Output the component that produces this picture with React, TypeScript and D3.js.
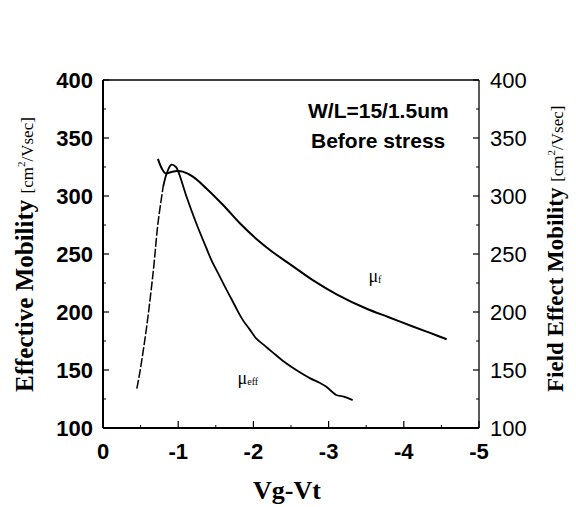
import React from "react";
import * as d3 from "d3";

// axis ticks
const xTicks = [0, -1, -2, -3, -4, -5];
const xMinor = [-0.5, -1.5, -2.5, -3.5, -4.5];
const yTicks = [100, 150, 200, 250, 300, 350, 400];
const yMinor = [125, 175, 225, 275, 325, 375];

// field effect mobility (mu_f)
const fieldVg = [-0.73, -0.78, -0.83, -0.9, -0.98, -1.06, -1.2, -1.375, -1.6, -1.82, -2.04, -2.25, -2.48, -2.8, -3.1, -3.5, -3.8, -4.12, -4.35, -4.57];
const fieldMu = [332, 324, 319.5, 320.5, 321.5, 321, 316.5, 306.5, 292, 276.5, 263, 252, 241.5, 227, 215.5, 203, 195.5, 187.5, 182, 176.5];

// effective mobility (mu_eff)
const effVg = [-0.45, -0.49, -0.58, -0.67, -0.73, -0.8, -0.85, -0.91, -0.97, -1.01, -1.11, -1.24, -1.375, -1.44, -1.55, -1.64, -1.71, -1.79, -1.86, -1.95, -2.04, -2.15, -2.26, -2.39, -2.57, -2.75, -2.88, -2.97, -3.05, -3.1, -3.2, -3.32];
const effMu = [134, 148, 187, 236, 276, 308, 320, 327, 325, 319.5, 299.5, 276.5, 255, 245, 231, 219.5, 211, 201, 193, 185, 177, 171, 165, 158, 150, 143, 139, 135.5, 131, 128.5, 127, 124];

const W = 576;
const H = 507;
const margin = { top: 80, right: 97, bottom: 79, left: 103 };

const sans = "'Liberation Sans', Arial, sans-serif";
const serif = "'Liberation Serif', 'Times New Roman', serif";

export default function App() {
  const x = d3.scaleLinear().domain([0, -5]).range([margin.left, W - margin.right]);
  const y = d3.scaleLinear().domain([100, 400]).range([H - margin.bottom, margin.top]);

  const lineSmooth = d3
    .line<[number, number]>()
    .x((d) => x(d[0]))
    .y((d) => y(d[1]))
    .curve(d3.curveCatmullRom.alpha(0.5));

  const field = fieldVg.map((v, i) => [v, fieldMu[i]] as [number, number]);
  const eff = effVg.map((v, i) => [v, effMu[i]] as [number, number]);
  const peak = d3.maxIndex(effMu);
  const effRise = eff.slice(0, peak - 1);
  const effRest = eff.slice(peak - 2);

  const x0 = x(0), x1 = x(-5), y0 = y(100), y1 = y(400);

  return (
    <svg width={W} height={H} style={{ position: "absolute", left: 0, top: 0, background: "#fff" }}>
      {/* frame */}
      <line x1={x0} x2={x0} y1={y1} y2={y0} stroke="#000" strokeWidth={2} />
      <line x1={x0} x2={x1} y1={y0} y2={y0} stroke="#000" strokeWidth={2} />
      <line x1={x0} x2={x1} y1={y1} y2={y1} stroke="#000" strokeWidth={1.3} />
      <line x1={x1} x2={x1} y1={y1} y2={y0} stroke="#000" strokeWidth={1.3} />

      {/* bottom ticks */}
      {xTicks.map((t) => (
        <g key={"xt" + t}>
          <line x1={x(t)} x2={x(t)} y1={y0} y2={y0 - 7} stroke="#000" strokeWidth={1.2} />
          <text x={x(t)} y={y0 + 31} textAnchor="middle" fontFamily={sans} fontWeight="bold" fontSize={22}>
            {t}
          </text>
        </g>
      ))}
      {xMinor.map((t) => (
        <line key={"xm" + t} x1={x(t)} x2={x(t)} y1={y0} y2={y0 - 3} stroke="#000" strokeWidth={1} />
      ))}

      {/* left / right ticks */}
      {yTicks.map((t) => (
        <g key={"yt" + t}>
          <line x1={x0} x2={x0 + 6} y1={y(t)} y2={y(t)} stroke="#000" strokeWidth={1.2} />
          <line x1={x1} x2={x1 - 6} y1={y(t)} y2={y(t)} stroke="#000" strokeWidth={1.2} />
          <text x={x0 - 10} y={y(t)} dy="0.36em" textAnchor="end" fontFamily={sans} fontWeight="bold" fontSize={22}>
            {t}
          </text>
          <text x={x1 + 11} y={y(t)} dy="0.36em" textAnchor="start" fontFamily={sans} fontSize={22}>
            {t}
          </text>
        </g>
      ))}
      {yMinor.map((t) => (
        <g key={"ym" + t}>
          <line x1={x0} x2={x0 + 3} y1={y(t)} y2={y(t)} stroke="#000" strokeWidth={1} />
          <line x1={x1} x2={x1 - 3} y1={y(t)} y2={y(t)} stroke="#000" strokeWidth={1} />
        </g>
      ))}

      {/* curves */}
      <path d={lineSmooth(field) ?? ""} fill="none" stroke="#000" strokeWidth={2} />
      <path d={lineSmooth(effRise) ?? ""} fill="none" stroke="#000" strokeWidth={1.5} strokeDasharray="9 2" />
      <path d={lineSmooth(effRest) ?? ""} fill="none" stroke="#000" strokeWidth={1.8} />

      {/* curve labels */}
      <text x={x(-3.53)} y={y(226)} fontFamily={serif} fontSize={18}>
        μ<tspan fontSize={10} dy={1}>f</tspan>
      </text>
      <text x={x(-1.79)} y={y(138)} fontFamily={serif} fontSize={18}>
        μ<tspan fontSize={10} dy={1}>eff</tspan>
      </text>

      {/* annotation */}
      <text x={308} y={118} fontFamily={sans} fontWeight="bold" fontSize={21}>
        W/L=15/1.5um
      </text>
      <text x={311} y={148} fontFamily={sans} fontWeight="bold" fontSize={21}>
        Before stress
      </text>

      {/* axis titles */}
      <text x={287} y={499} textAnchor="middle" fontFamily={serif} fontWeight="bold" fontSize={26}>
        Vg-Vt
      </text>
      <text transform="translate(33,392) rotate(-90)" fontFamily={serif}>
        <tspan fontWeight="bold" fontSize={25}>Effective Mobility </tspan>
        <tspan fontSize={17}>[cm</tspan>
        <tspan fontSize={11} dy={-8}>2</tspan>
        <tspan fontSize={17} dy={8}>/Vsec]</tspan>
      </text>
      <text transform="translate(563,392) rotate(-90)" fontFamily={serif}>
        <tspan fontWeight="bold" fontSize={23}>Field Effect Mobility </tspan>
        <tspan fontSize={17}>[cm</tspan>
        <tspan fontSize={11} dy={-8}>2</tspan>
        <tspan fontSize={17} dy={8}>/Vsec]</tspan>
      </text>
    </svg>
  );
}
